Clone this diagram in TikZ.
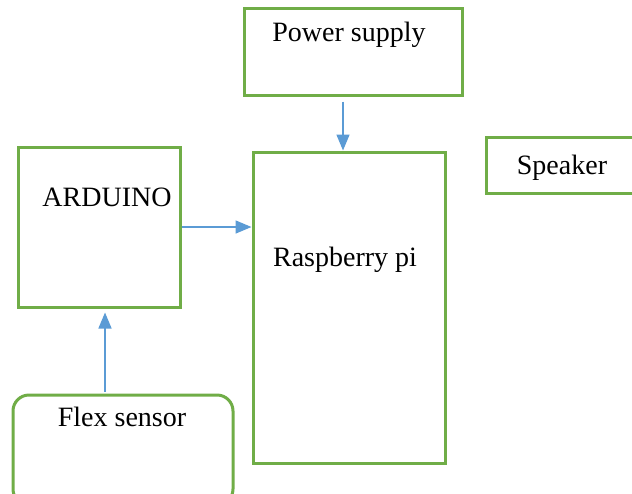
\documentclass[tikz,border=0pt]{standalone}
\usepackage{fontspec}
\setmainfont{Liberation Serif}
\usetikzlibrary{arrows.meta}
\definecolor{boxgreen}{RGB}{112,173,71}
\definecolor{arrowblue}{RGB}{91,155,213}
\begin{document}
\begin{tikzpicture}[x=1pt,y=-1pt,
  blk/.style={draw=boxgreen,line width=3pt,inner sep=0pt},
  txt/.style={inner sep=0pt,font=\fontsize{28}{32}\selectfont},
  conn/.style={draw=arrowblue,line width=1.5pt,-{Triangle[length=16pt,width=13pt]}}]
  \useasboundingbox (0,0) rectangle (632,493);
  % boxes
  \node[blk,minimum width=218pt,minimum height=87pt] (ps) at (353,51.5) {};
  \node[blk,minimum width=154pt,minimum height=56pt] (spk) at (563,165) {};
  \node[blk,minimum width=162pt,minimum height=160pt] (ard) at (99,227) {};
  \node[blk,minimum width=192pt,minimum height=311pt] (rpi) at (349,307.5) {};
  \node[blk,rounded corners=16pt,minimum width=220pt,minimum height=110pt] (flex) at (123,450) {};
  % texts
  \node[txt] (pst) at (349,35) {Power supply};
  \node[txt] (spkt) at (562,168) {Speaker};
  \node[txt] (ardt) at (107,197) {ARDUINO};
  \node[txt] (rpit) at (345,260) {Raspberry pi};
  \node[txt] (flext) at (122,417) {Flex sensor};
  % connectors
  \draw[conn] ([xshift=-10pt,yshift=-5pt]ps.south) -- ([xshift=-10pt]ps.south |- rpi.north);
  \draw[conn] (ard.east) -- (ard.east -| rpi.west);
  \draw[conn,shorten >=4pt] ([xshift=-18pt,yshift=2pt]flex.north) -- ([xshift=-18pt]flex.north |- ard.south);
\end{tikzpicture}
\end{document}
